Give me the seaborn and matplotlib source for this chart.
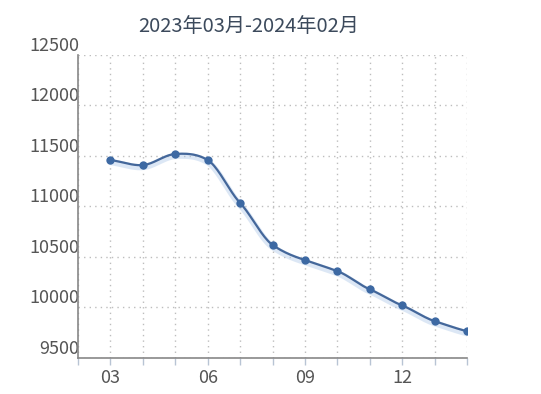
import numpy as np
import pandas as pd
import matplotlib
matplotlib.use("Agg")
import matplotlib.pyplot as plt
import matplotlib.transforms as mtransforms
import seaborn as sns

months = ["03", "04", "05", "06", "07", "08", "09", "10", "11", "12", "01", "02"]
prices = [11460, 11410, 11520, 11460, 11035, 10620, 10470, 10360, 10180, 10020, 9865, 9765]
shown_labels = {"03", "06", "09", "12"}
title = "2023年03月-2024年02月"

y_ticks = list(range(9500, 12501, 500))


def smooth_curve(x, y, steps=20):
    """Hermite curve through the points, for drawing the line only."""
    x = np.asarray(x, float)
    y = np.asarray(y, float)
    m = np.gradient(y, x) * 0.8
    xs, ys = [], []
    for i in range(len(x) - 1):
        h = x[i + 1] - x[i]
        t = np.linspace(0, 1, steps, endpoint=False)
        h00 = 2 * t**3 - 3 * t**2 + 1
        h10 = t**3 - 2 * t**2 + t
        h01 = -2 * t**3 + 3 * t**2
        h11 = t**3 - t**2
        xs.append(x[i] + t * h)
        ys.append(h00 * y[i] + h10 * h * m[i] + h01 * y[i + 1] + h11 * h * m[i + 1])
    xs.append([x[-1]])
    ys.append([y[-1]])
    return np.concatenate(xs), np.concatenate(ys)


sns.set_style("white")
plt.rcParams["font.family"] = ["Noto Sans CJK SC", "DejaVu Sans"]

df = pd.DataFrame({"idx": np.arange(len(months)), "price": prices})
cx, cy = smooth_curve(df["idx"], df["price"])
curve = pd.DataFrame({"idx": cx, "price": cy})

fig = plt.figure(figsize=(5.41, 3.94), dpi=100)
ax = fig.add_axes([78 / 541, 36 / 394, 389 / 541, 303 / 394])

# soft shadow under the line
shadow = mtransforms.offset_copy(ax.transData, fig=fig, x=0, y=-2, units="dots")
ax.plot(cx, cy, color="#a9c5e6", linewidth=4.5, alpha=0.4, transform=shadow,
        solid_capstyle="round", zorder=2)
sns.lineplot(data=curve, x="idx", y="price", color="#44679a", linewidth=1.6,
             ax=ax, zorder=3, sort=False)
sns.scatterplot(data=df, x="idx", y="price", color="#3d69a3", s=36,
                edgecolor="#3d69a3", linewidth=0, ax=ax, zorder=4)

ax.set_xlim(-1, len(months) - 1)
ax.set_ylim(y_ticks[0], y_ticks[-1])
ax.set_xticks(np.arange(-1, len(months)))
ax.set_xticklabels([""] + [m if m in shown_labels else "" for m in months])
ax.set_yticks(y_ticks)
ax.set_yticklabels([str(v) for v in y_ticks])
for lab in ax.get_yticklabels():
    lab.set_va("bottom")

ax.grid(True, color="#bdbdbd", linestyle=(0, (1, 3)), linewidth=1)
ax.set_xlabel("")
ax.set_ylabel("")

for side in ["top", "right"]:
    ax.spines[side].set_visible(False)
for side in ["left", "bottom"]:
    ax.spines[side].set_color("#888888")
    ax.spines[side].set_linewidth(1.2)

ax.tick_params(axis="x", direction="out", length=5, width=1, color="#b8c4d4",
               labelsize=13, labelcolor="#555555", pad=3, bottom=True)
ax.tick_params(axis="y", length=0, labelsize=13, labelcolor="#555555", pad=-1)

fig.text(249 / 541, 1 - 27 / 394, title, ha="center", va="center",
         fontsize=14.5, color="#3c4a5c")

fig.savefig("out.png", dpi=100)
